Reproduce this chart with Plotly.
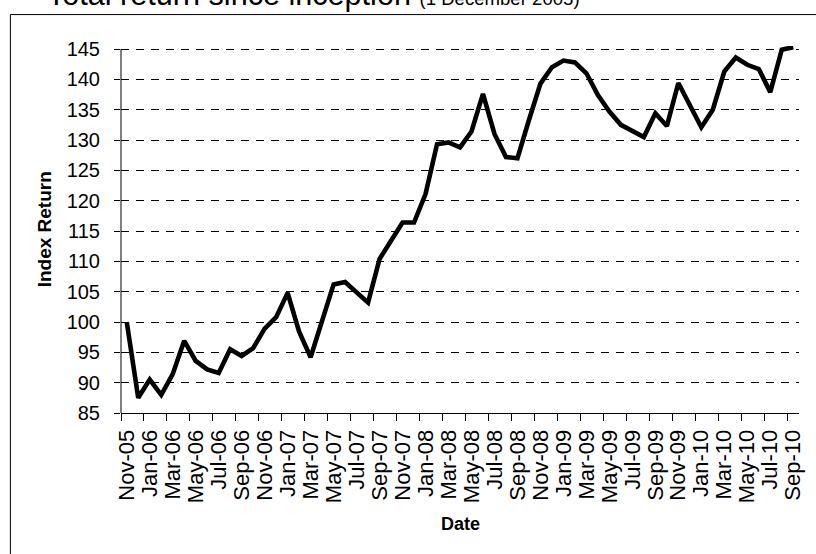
import plotly.graph_objects as go

months = ["Nov-05", "Dec-05",
          "Jan-06", "Feb-06", "Mar-06", "Apr-06", "May-06", "Jun-06", "Jul-06", "Aug-06", "Sep-06", "Oct-06", "Nov-06", "Dec-06",
          "Jan-07", "Feb-07", "Mar-07", "Apr-07", "May-07", "Jun-07", "Jul-07", "Aug-07", "Sep-07", "Oct-07", "Nov-07", "Dec-07",
          "Jan-08", "Feb-08", "Mar-08", "Apr-08", "May-08", "Jun-08", "Jul-08", "Aug-08", "Sep-08", "Oct-08", "Nov-08", "Dec-08",
          "Jan-09", "Feb-09", "Mar-09", "Apr-09", "May-09", "Jun-09", "Jul-09", "Aug-09", "Sep-09", "Oct-09", "Nov-09", "Dec-09",
          "Jan-10", "Feb-10", "Mar-10", "Apr-10", "May-10", "Jun-10", "Jul-10", "Aug-10", "Sep-10"]

index_return = [100.0, 87.5,
                90.5, 88.0, 91.4, 96.9, 93.6, 92.2, 91.6, 95.5, 94.4, 95.7, 98.9, 100.8,
                104.8, 98.4, 94.2, 100.0, 106.2, 106.6, 104.9, 103.2, 110.4, 113.3, 116.4, 116.4,
                121.1, 129.3, 129.6, 128.8, 131.4, 137.6, 131.0, 127.2, 127.0, 133.3, 139.3, 142.0,
                143.1, 142.8, 141.0, 137.4, 134.7, 132.5, 131.4, 130.5, 134.4, 132.3, 139.4, 135.6,
                132.1, 135.0, 141.3, 143.6, 142.4, 141.7, 137.9, 144.9, 145.3]

y_ticks = [85, 90, 95, 100, 105, 110, 115, 120, 125, 130, 135, 140, 145]

title_main = "Total return since inception"
title_sub = "(1 December 2005)"
x_title = "Date"
y_title = "Index Return"

FONT = "Liberation Sans, Arial, sans-serif"
W, H = 816, 554
L, R, T, B = 120.7, 16.8, 45.5, 140.7
PW, PH = W - L - R, H - T - B


def px_x(px):
    return (px - L) / PW


def px_y(py):
    return (H - B - py) / PH


fig = go.Figure()
fig.add_trace(go.Scatter(x=months, y=index_return, mode="lines",
                         line=dict(color="black", width=4.6), showlegend=False,
                         hoverinfo="x+y"))

fig.update_layout(
    width=W, height=H,
    margin=dict(l=L, r=R, t=T, b=B, pad=0),
    paper_bgcolor="white", plot_bgcolor="white",
    font=dict(family=FONT, color="black"),
    showlegend=False,
    xaxis=dict(type="category", range=[-0.5, len(months) - 0.5],
               tickmode="linear", tick0=0, dtick=2, tickson="boundaries",
               ticks="outside", ticklen=7, tickcolor="black", tickwidth=1,
               tickangle=-90, tickfont=dict(size=22, family=FONT),
               ticklabelstandoff=7,
               showline=True, linecolor="black", linewidth=1,
               showgrid=False, zeroline=False),
    yaxis=dict(range=[85, 145.5], tickmode="array", tickvals=y_ticks,
               ticks="outside", ticklen=6, tickcolor="black", tickwidth=1,
               tickfont=dict(size=20, family=FONT), ticklabelstandoff=10,
               showline=False, showgrid=True, gridcolor="black", gridwidth=1,
               griddash="8px,7px", zeroline=False),
    yaxis2=dict(range=[85, 145.5], overlaying="y", side="left", anchor="x",
                tickmode="array", tickvals=y_ticks, ticks="inside", ticklen=5,
                tickcolor="black", tickwidth=1, showticklabels=False,
                showgrid=False, zeroline=False, showline=False),
)

# y axis line from 85 to 145
fig.add_shape(type="line", xref="paper", yref="y", x0=0, x1=0, y0=85, y1=145,
              line=dict(color="black", width=1))
# chart area border (extends beyond the visible window on right/bottom)
fig.add_shape(type="rect", xref="paper", yref="paper",
              x0=px_x(10), x1=px_x(830), y0=px_y(570), y1=px_y(14),
              line=dict(color="black", width=1), fillcolor="rgba(0,0,0,0)", layer="below")

# title sits partly above the top edge, as in the reference
fig.add_annotation(xref="paper", yref="paper", x=px_x(45), y=px_y(13),
                   xanchor="left", yanchor="bottom", showarrow=False,
                   text=f"{title_main} <span style='font-size:18.6px'>{title_sub}</span>",
                   font=dict(size=30.6, family=FONT, color="black"))
fig.add_annotation(xref="paper", yref="paper", x=0.5, y=px_y(525),
                   xanchor="center", yanchor="middle", showarrow=False,
                   text=f"<b>{x_title}</b>", font=dict(size=18, family=FONT, color="black"))
fig.add_annotation(xref="paper", yref="paper", x=px_x(44.5), y=0.5,
                   xanchor="center", yanchor="middle", showarrow=False, textangle=-90,
                   text=f"<b>{y_title}</b>", font=dict(size=19, family=FONT, color="black"))

fig.write_html("out.html")
